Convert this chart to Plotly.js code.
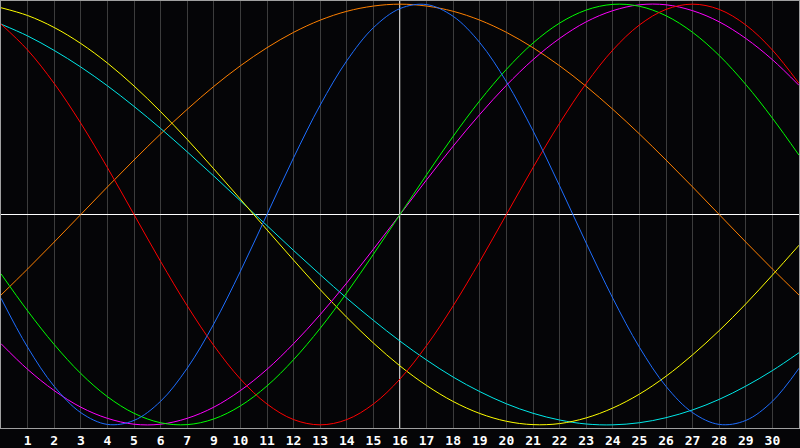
<!DOCTYPE html>
<html>
<head>
<meta charset="utf-8">
<script src="https://cdn.plot.ly/plotly-3.0.1.min.js"></script>
<style>
  html, body { margin: 0; padding: 0; background: #050507; }
  #chart { width: 800px; height: 448px; }
</style>
</head>
<body>
<div id="chart"></div>
<script>
// sample positions (one per day slot) and day labels under the grid
var days = [0, 1, 2, 3, 4, 5, 6, 7, 8, 9, 10, 11, 12, 13, 14, 15, 16, 17, 18, 19, 20, 21, 22, 23, 24, 25, 26, 27, 28, 29, 30];
var tickPos = [1, 2, 3, 4, 5, 6, 7, 8, 9, 10, 11, 12, 13, 14, 15, 16, 17, 18, 19, 20, 21, 22, 23, 24, 25, 26, 27, 28, 29];
var tickLabels = ['1', '2', '3', '4', '5', '6', '7', '9', '10', '11', '12', '13', '14', '15', '16', '17', '18', '19', '20', '21', '22', '23', '24', '25', '26', '27', '28', '29', '30'];
var today = 15;

// curve values, -1 .. 1
var blue = [-0.398, -0.631, -0.817, -0.942, -0.998, -0.979, -0.888, -0.731, -0.520, -0.270, 0, 0.270, 0.520, 0.731, 0.888, 0.979, 0.998, 0.942, 0.817, 0.631, 0.398, 0.136, -0.136, -0.398, -0.631, -0.817, -0.942, -0.998, -0.979, -0.888, -0.731];
var red = [0.905, 0.782, 0.623, 0.434, 0.223, 0, -0.223, -0.434, -0.623, -0.782, -0.901, -0.975, -1, -0.975, -0.901, -0.782, -0.623, -0.434, -0.223, 0, 0.223, 0.434, 0.623, 0.782, 0.901, 0.975, 1, 0.975, 0.901, 0.782, 0.623];
var green = [-0.282, -0.458, -0.618, -0.756, -0.866, -0.945, -0.990, -0.999, -0.972, -0.910, -0.815, -0.690, -0.541, -0.372, -0.189, 0, 0.189, 0.372, 0.541, 0.690, 0.815, 0.910, 0.972, 0.999, 0.990, 0.945, 0.866, 0.756, 0.618, 0.458, 0.282];
var magenta = [-0.614, -0.736, -0.837, -0.916, -0.969, -0.997, -0.997, -0.969, -0.916, -0.837, -0.736, -0.614, -0.476, -0.325, -0.165, 0, 0.165, 0.325, 0.476, 0.614, 0.736, 0.837, 0.916, 0.969, 0.997, 0.997, 0.969, 0.916, 0.837, 0.736, 0.614];
var cyan = [0.905, 0.849, 0.780, 0.701, 0.612, 0.514, 0.409, 0.298, 0.183, 0.065, -0.053, -0.171, -0.286, -0.398, -0.503, -0.602, -0.692, -0.773, -0.842, -0.900, -0.945, -0.977, -0.996, -1.000, -0.990, -0.966, -0.929, -0.879, -0.816, -0.742, -0.657];
var yellow = [0.983, 0.946, 0.889, 0.813, 0.720, 0.611, 0.489, 0.357, 0.217, 0.073, -0.073, -0.217, -0.357, -0.489, -0.611, -0.720, -0.813, -0.889, -0.946, -0.983, -0.999, -0.994, -0.967, -0.920, -0.854, -0.769, -0.667, -0.552, -0.425, -0.288, -0.146];
var orange = [-0.383, -0.259, -0.131, 0, 0.131, 0.259, 0.383, 0.500, 0.609, 0.707, 0.793, 0.866, 0.924, 0.966, 0.991, 1.000, 0.991, 0.966, 0.924, 0.866, 0.793, 0.707, 0.609, 0.500, 0.383, 0.259, 0.131, 0, -0.131, -0.259, -0.383];

function curve(vals, color) {
  return {
    x: days, y: vals,
    type: 'scatter', mode: 'lines',
    line: {color: color, width: 1, shape: 'spline', smoothing: 1},
    hoverinfo: 'skip'
  };
}

var data = [
  curve(orange, '#ff8000'),
  curve(cyan, '#00e8e8'),
  curve(yellow, '#ffff00'),
  curve(magenta, '#ff00ff'),
  curve(green, '#00ff00'),
  curve(red, '#ff0000'),
  curve(blue, '#1e6eff')
];

var layout = {
  width: 800, height: 448,
  margin: {l: 1, r: 1, t: 1, b: 20},
  paper_bgcolor: '#050507',
  plot_bgcolor: '#050507',
  showlegend: false,
  xaxis: {
    range: [0, 30],
    tickmode: 'array', tickvals: tickPos, ticktext: tickLabels,
    ticks: '', showgrid: true, gridcolor: '#3c3c3c', gridwidth: 1,
    zeroline: false, showline: true, mirror: true, linecolor: '#a0a0a0', linewidth: 1,
    tickfont: {family: 'DejaVu Sans Mono', size: 13, color: '#ffffff', weight: 'bold'},
    fixedrange: true
  },
  yaxis: {
    range: [-1.015, 1.015],
    showticklabels: false, ticks: '', showgrid: false,
    zeroline: true, zerolinecolor: '#ffffff', zerolinewidth: 1.5,
    showline: true, mirror: true, linecolor: '#a0a0a0', linewidth: 1,
    fixedrange: true
  },
  shapes: [{
    type: 'line', xref: 'x', yref: 'paper',
    x0: today, x1: today, y0: 0, y1: 1,
    line: {color: '#ffffff', width: 1.5},
    layer: 'between'
  }]
};

Plotly.newPlot('chart', data, layout, {displayModeBar: false, staticPlot: true});
</script>
</body>
</html>
